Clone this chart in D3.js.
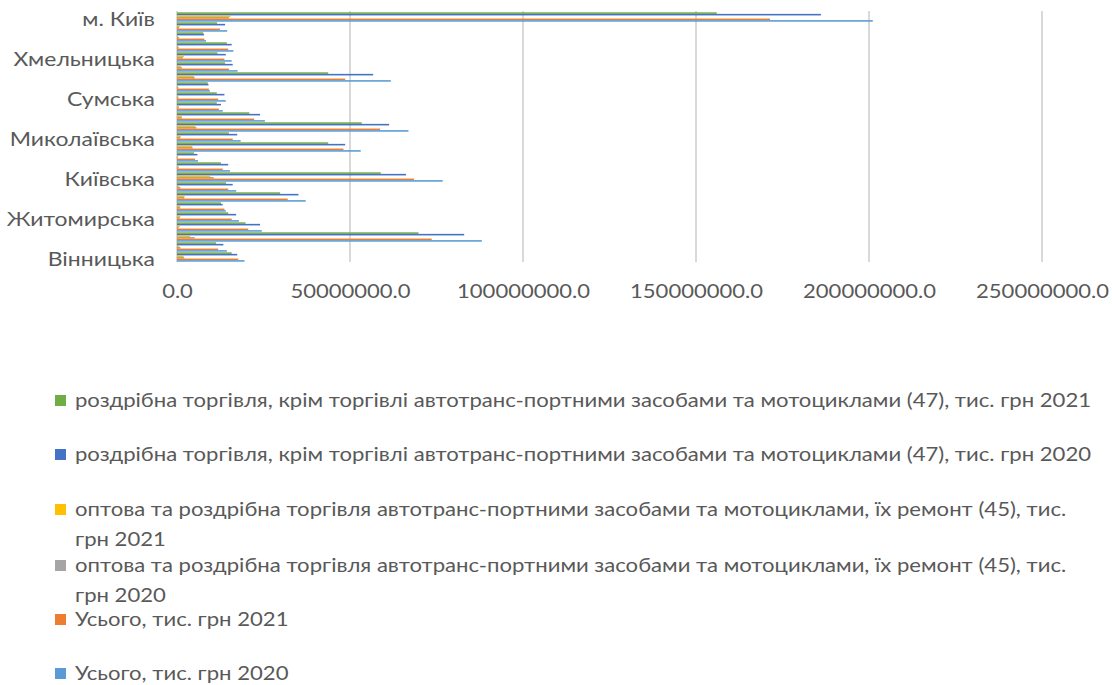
<!DOCTYPE html>
<html>
<head>
<meta charset="utf-8">
<script src="https://cdn.jsdelivr.net/npm/d3@7"></script>
<style>
  html, body { margin: 0; padding: 0; background: #ffffff; }
  svg { display: block; }
  text { font-family: Lato, "Open Sans", sans-serif; fill: #595959; }
</style>
</head>
<body>
<svg id="chart" width="1112" height="685"></svg>
<script>
// Regions (bottom to top in the chart)
const categories = ["Вінницька","Волинська","Дніпропетровська","Донецька","Житомирська","Закарпатська","Запорізька","Івано-Франківська","Київська","Кіровоградська","Луганська","Львівська","Миколаївська","Одеська","Полтавська","Рівненська","Сумська","Тернопільська","Харківська","Херсонська","Хмельницька","Черкаська","Чернівецька","Чернігівська","м. Київ"];

// Values, тис. грн
const retail2021 = [15.8e6, 11.3e6, 69.8e6, 19.8e6, 14.8e6, 12.7e6, 29.8e6, 14.2e6, 58.9e6, 12.7e6, 4.9e6, 43.7e6, 15.0e6, 53.4e6, 20.9e6, 11.5e6, 11.5e6, 8.9e6, 43.7e6, 13.9e6, 11.7e6, 14.4e6, 7.6e6, 11.6e6, 156.0e6];
const retail2020 = [17.4e6, 13.4e6, 83.0e6, 24.0e6, 17.1e6, 13.2e6, 35.1e6, 16.1e6, 66.2e6, 14.8e6, 5.9e6, 48.6e6, 17.4e6, 61.3e6, 24.0e6, 12.7e6, 13.7e6, 9.1e6, 56.7e6, 16.1e6, 14.1e6, 15.8e6, 7.8e6, 13.9e6, 186.1e6];
const wholesale2021 = [1.9e6, 0.6e6, 3.8e6, 0.8e6, 1.0e6, 1.0e6, 2.2e6, 0.6e6, 9.6e6, 0.5e6, 0.3e6, 4.4e6, 1.1e6, 5.3e6, 1.4e6, 0.6e6, 0.4e6, 0.3e6, 4.9e6, 1.1e6, 2.0e6, 0.4e6, 0.3e6, 0.8e6, 15.4e6];
const wholesale2020 = [2.1e6, 1.0e6, 5.1e6, 0.5e6, 0.8e6, 0.9e6, 2.1e6, 1.0e6, 10.6e6, 0.5e6, 0.2e6, 4.5e6, 1.0e6, 5.6e6, 1.4e6, 0.5e6, 0.4e6, 0.4e6, 5.1e6, 1.4e6, 1.7e6, 0.5e6, 0.6e6, 0.6e6, 15.0e6];
const total2021 = [17.7e6, 11.9e6, 73.6e6, 20.6e6, 15.8e6, 13.7e6, 32.0e6, 14.8e6, 68.5e6, 13.2e6, 5.2e6, 48.1e6, 16.1e6, 58.7e6, 22.3e6, 12.1e6, 11.9e6, 9.2e6, 48.6e6, 15.0e6, 13.7e6, 14.8e6, 7.9e6, 12.4e6, 171.4e6];
const total2020 = [19.5e6, 14.4e6, 88.1e6, 24.5e6, 17.9e6, 14.1e6, 37.2e6, 17.1e6, 76.8e6, 15.3e6, 6.1e6, 53.1e6, 18.4e6, 66.9e6, 25.4e6, 13.2e6, 14.1e6, 9.5e6, 61.8e6, 17.5e6, 15.8e6, 16.3e6, 8.4e6, 14.5e6, 201.1e6];

const xTicks = [0, 50e6, 100e6, 150e6, 200e6, 250e6];

// Series in legend order (top of each group first)
const seriesNames = [
  "роздрібна торгівля, крім торгівлі автотранс-портними засобами та мотоциклами (47), тис. грн 2021",
  "роздрібна торгівля, крім торгівлі автотранс-портними засобами та мотоциклами (47), тис. грн 2020",
  "оптова та роздрібна торгівля автотранс-портними засобами та мотоциклами, їх ремонт (45), тис. грн 2021",
  "оптова та роздрібна торгівля автотранс-портними засобами та мотоциклами, їх ремонт (45), тис. грн 2020",
  "Усього, тис. грн 2021",
  "Усього, тис. грн 2020"
];
const seriesValues = [retail2021, retail2020, wholesale2021, wholesale2020, total2021, total2020];
const seriesColors = ["#70AD47", "#4472C4", "#FFC000", "#A5A5A5", "#ED7D31", "#5B9BD5"];

const series = seriesNames.map((name, i) => ({ name, color: seriesColors[i], values: seriesValues[i] }));

const svg = d3.select("#chart");
svg.append("rect").attr("width", 1112).attr("height", 685).attr("fill", "#ffffff");

const plot = { left: 177, right: 1042, top: 12, bottom: 262 };
const fontSize = "18.5px";
// horizontal stretch of the text, per block
const stretchY = 1.24, stretchX = 1.19, stretchLegend = 1.195;

const x = d3.scaleLinear().domain([0, 250e6]).range([plot.left, plot.right]);
const y = d3.scaleBand()
  .domain(categories.slice().reverse())
  .range([plot.top, plot.bottom])
  .paddingInner(0.06)
  .paddingOuter(0.03);
const ySub = d3.scaleBand()
  .domain(d3.range(series.length))
  .range([0, y.bandwidth()]);

// Vertical gridlines
svg.append("g")
  .selectAll("line")
  .data(xTicks)
  .join("line")
  .attr("x1", d => x(d)).attr("x2", d => x(d))
  .attr("y1", plot.top - 1).attr("y2", plot.bottom)
  .attr("stroke", "#d9d9d9")
  .attr("stroke-width", 2);

// Bars
const groups = svg.append("g")
  .selectAll("g")
  .data(categories)
  .join("g")
  .attr("transform", c => `translate(0,${y(c)})`);

groups.selectAll("rect")
  .data((c, ci) => series.map((s, si) => ({ si, v: s.values[ci], color: s.color })))
  .join("rect")
  .attr("x", x(0))
  .attr("y", d => ySub(d.si))
  .attr("width", d => x(d.v) - x(0))
  .attr("height", ySub.bandwidth())
  .attr("fill", d => d.color);

// Category axis: every fourth label
const yPad = 22;
const yAxis = d3.axisLeft(y)
  .tickValues(categories.filter((c, i) => i % 4 === 0))
  .tickSize(0)
  .tickPadding(yPad);
const gy = svg.append("g").attr("transform", `translate(${plot.left},0)`).call(yAxis);
gy.select(".domain").remove();
gy.selectAll("text")
  .attr("x", -yPad / stretchY)
  .attr("dy", "0.5em")
  .attr("transform", `scale(${stretchY},1)`)
  .style("font-family", "Lato, sans-serif")
  .style("font-size", fontSize)
  .attr("fill", "#595959");

// Value axis
const xAxis = d3.axisBottom(x)
  .tickValues(xTicks)
  .tickFormat(d3.format(".1f"))
  .tickSize(0)
  .tickPadding(23);
const gx = svg.append("g").attr("transform", `translate(0,${plot.bottom})`).call(xAxis);
gx.select(".domain").remove();
gx.selectAll("text")
  .attr("transform", `scale(${stretchX},1)`)
  .style("font-family", "Lato, sans-serif")
  .style("font-size", fontSize)
  .attr("fill", "#595959");

// Legend
const legendRows = [
  { si: 0, lines: [seriesNames[0]], y: 401 },
  { si: 1, lines: [seriesNames[1]], y: 455 },
  { si: 2, lines: ["оптова та роздрібна торгівля автотранс-портними засобами та мотоциклами, їх ремонт (45), тис.", "грн 2021"], y: 510 },
  { si: 3, lines: ["оптова та роздрібна торгівля автотранс-портними засобами та мотоциклами, їх ремонт (45), тис.", "грн 2020"], y: 566 },
  { si: 4, lines: [seriesNames[4]], y: 620 },
  { si: 5, lines: [seriesNames[5]], y: 674 }
];
const legend = svg.append("g");
const items = legend.selectAll("g")
  .data(legendRows)
  .join("g")
  .attr("transform", d => `translate(0,${d.y})`);
items.append("rect")
  .attr("x", 55).attr("y", -6)
  .attr("width", 11).attr("height", 11)
  .attr("fill", d => series[d.si].color);
items.selectAll("text")
  .data(d => d.lines)
  .join("text")
  .attr("transform", (d, i) => `translate(75,${i * 30}) scale(${stretchLegend},1)`)
  .attr("dy", "0.35em")
  .style("font-size", fontSize)
  .text(d => d);
</script>
</body>
</html>
